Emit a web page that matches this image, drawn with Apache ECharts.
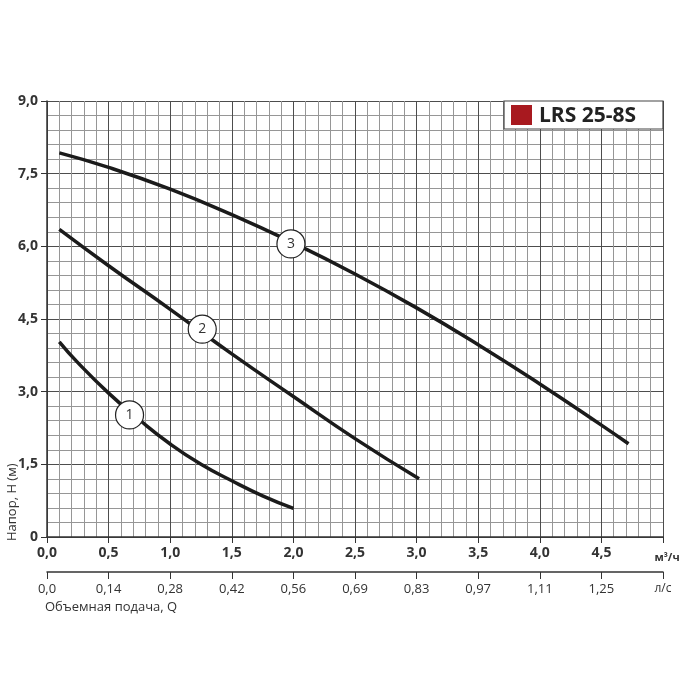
<!DOCTYPE html>
<html>
<head>
<meta charset="utf-8">
<script src="https://cdn.jsdelivr.net/npm/echarts@6/dist/echarts.min.js"></script>
<style>
  html, body { margin: 0; padding: 0; background: #fff; }
  #chart { width: 700px; height: 700px; }
</style>
</head>
<body>
<div id="chart"></div>
<script>
'use strict';

// pump curves, Q in m3/h, H in m
var curve1 = [[0.1, 4.03], [0.25, 3.6], [0.5, 2.97], [0.75, 2.42], [1.0, 1.92], [1.25, 1.5], [1.5, 1.16], [1.75, 0.85], [2.0, 0.59]];
var curve2 = [[0.1, 6.35], [0.5, 5.6], [1.0, 4.7], [1.5, 3.78], [2.0, 2.9], [2.5, 2.03], [3.02, 1.2]];
var curve3 = [[0.1, 7.93], [0.5, 7.63], [1.0, 7.18], [1.5, 6.655], [2.0, 6.07], [2.5, 5.43], [3.0, 4.73], [3.5, 3.97], [4.0, 3.16], [4.5, 2.31], [4.72, 1.925]];

// where the numbered circles sit on each curve
var curveMarks = [[0.67, 2.52], [1.26, 4.29], [1.98, 6.05]];

var qLabels = ['0,0', '0,5', '1,0', '1,5', '2,0', '2,5', '3,0', '3,5', '4,0', '4,5', 'м³/ч'];
var lsLabels = ['0,0', '0,14', '0,28', '0,42', '0,56', '0,69', '0,83', '0,97', '1,11', '1,25', 'л/с'];
var hLabels = ['0', '1,5', '3,0', '4,5', '6,0', '7,5', '9,0'];

var chart = echarts.init(document.getElementById('chart'));

function curveSeries(name, data, idx) {
    return {
        name: name,
        type: 'line',
        data: data,
        smooth: 0.5,
        symbol: 'none',
        lineStyle: { color: '#1b1b1b', width: 3.5 },
        z: 3,
        markPoint: {
            symbol: 'circle',
            symbolSize: 28,
            itemStyle: { color: '#fff', borderColor: '#222', borderWidth: 1.2 },
            label: { show: true, color: '#333', fontSize: 14, formatter: name },
            data: [{ coord: curveMarks[idx] }]
        }
    };
}

var option = {
    animation: false,
    textStyle: { fontFamily: 'Open Sans' },
    grid: { left: 47, right: 37, top: 101, bottom: 163 },
    xAxis: [{
        type: 'value',
        min: 0,
        max: 5,
        interval: 0.5,
        axisLine: { lineStyle: { color: '#333', width: 1.5 } },
        axisTick: { show: true, length: 6, lineStyle: { color: '#333' } },
        axisLabel: {
            color: '#333',
            fontSize: 14,
            fontWeight: 'bold',
            margin: 9,
            formatter: function (v) {
                var i = Math.round(v / 0.5);
                return i === 10 ? '{u|' + qLabels[i] + '}' : qLabels[i];
            },
            rich: { u: { fontSize: 11, fontWeight: 'bold', color: '#333', padding: [6, 0, 0, 8] } }
        },
        splitLine: { show: true, lineStyle: { color: '#4d4d4d', width: 1 } },
        minorTick: { show: false, splitNumber: 5 },
        minorSplitLine: { show: true, lineStyle: { color: '#969696', width: 1 } }
    }, {
        type: 'value',
        position: 'bottom',
        offset: 35,
        min: 0,
        max: 5,
        interval: 0.5,
        axisLine: { show: true, onZero: false, lineStyle: { color: '#333', width: 1.5 } },
        axisTick: { show: true, length: 7, lineStyle: { color: '#333' } },
        axisLabel: {
            color: '#333',
            fontSize: 13,
            margin: 11,
            formatter: function (v) {
                var i = Math.round(v / 0.5);
                return i === 10 ? '{u|' + lsLabels[i] + '}' : lsLabels[i];
            },
            rich: { u: { fontSize: 12, color: '#333', padding: [0, 0, 0, 0] } }
        },
        splitLine: { show: false }
    }],
    yAxis: {
        type: 'value',
        min: 0,
        max: 9,
        interval: 1.5,
        axisLine: { show: true, lineStyle: { color: '#333', width: 1.5 } },
        axisTick: { show: true, length: 6, lineStyle: { color: '#333' } },
        axisLabel: {
            color: '#333',
            fontSize: 14,
            fontWeight: 'bold',
            margin: 9,
            formatter: function (v) {
                return hLabels[Math.round(v / 1.5)];
            }
        },
        splitLine: { show: true, lineStyle: { color: '#4d4d4d', width: 1 } },
        minorTick: { show: false, splitNumber: 5 },
        minorSplitLine: { show: true, lineStyle: { color: '#969696', width: 1 } }
    },
    graphic: [
        {
            type: 'text',
            x: 12,
            y: 541,
            rotation: Math.PI / 2,
            style: {
                text: 'Напор, H (м)',
                fill: '#333',
                fontSize: 13,
                fontFamily: 'Open Sans',
                textAlign: 'left',
                textVerticalAlign: 'middle'
            }
        },
        {
            type: 'text',
            x: 45,
            y: 607,
            style: {
                text: 'Объемная подача, Q',
                fill: '#333',
                fontSize: 13,
                fontFamily: 'Open Sans',
                textAlign: 'left',
                textVerticalAlign: 'middle'
            }
        },
        {
            type: 'rect',
            z: 100,
            shape: { x: 504, y: 101, width: 159, height: 28 },
            style: { fill: '#fff', stroke: '#444', lineWidth: 1.2 }
        },
        {
            type: 'rect',
            z: 101,
            shape: { x: 511, y: 105, width: 21, height: 20 },
            style: { fill: '#a8191f' }
        },
        {
            type: 'text',
            z: 101,
            x: 539,
            y: 116,
            style: {
                text: 'LRS 25-8S',
                fill: '#222',
                fontSize: 21,
                fontWeight: 'bold',
                fontFamily: 'Open Sans',
                textAlign: 'left',
                textVerticalAlign: 'middle'
            }
        }
    ],
    series: [
        curveSeries('1', curve1, 0),
        curveSeries('2', curve2, 1),
        curveSeries('3', curve3, 2)
    ]
};

chart.setOption(option);
</script>
</body>
</html>
